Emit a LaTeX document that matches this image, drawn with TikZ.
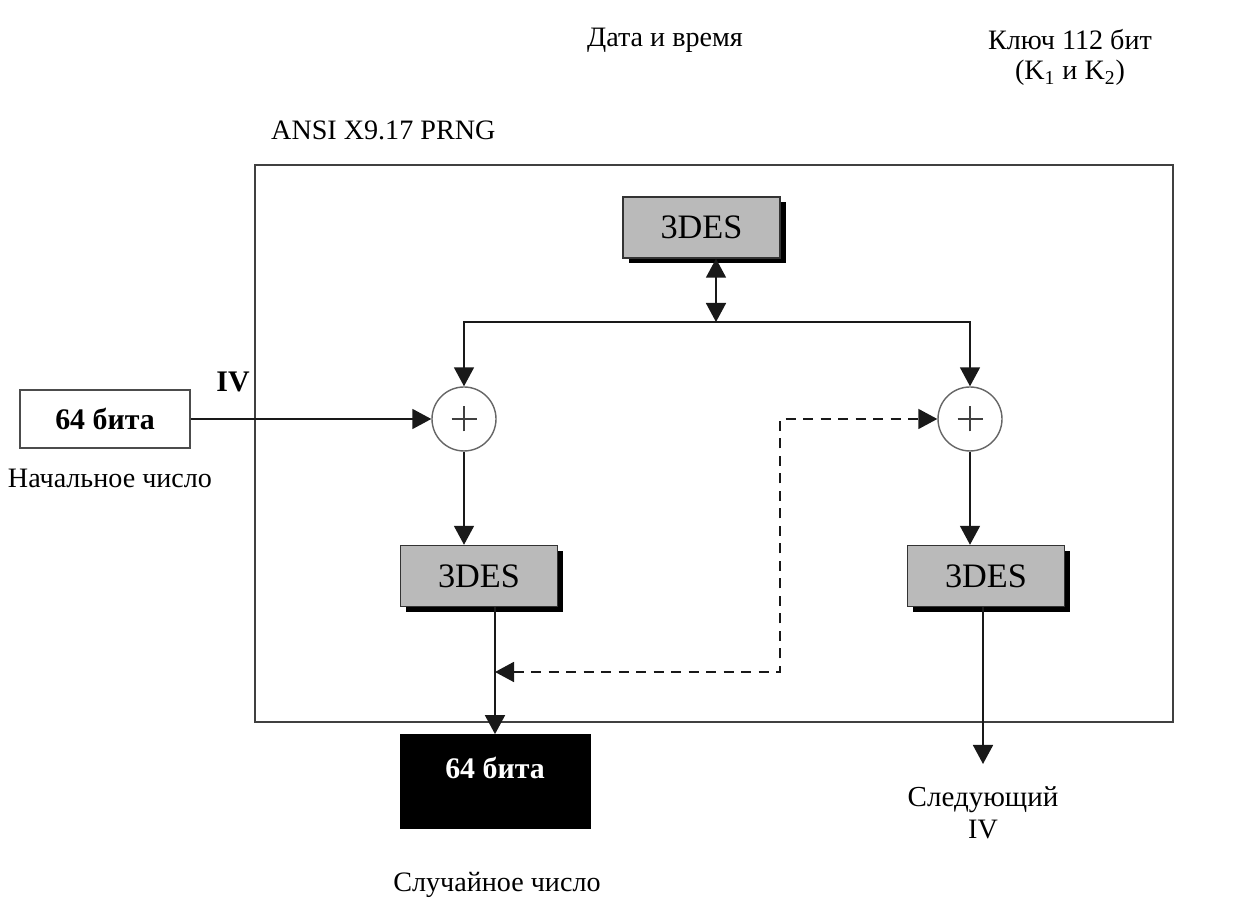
\documentclass[tikz,border=0pt]{standalone}
\usepackage{fontspec}
\setmainfont{Liberation Serif}
\usetikzlibrary{arrows.meta,shadows}

\begin{document}
\begin{tikzpicture}[>={Triangle[length=0.38cm,width=0.4cm]},
  link/.style={draw=black!90, line width=1pt},
  lbl/.style={font=\fontsize{16}{19}\selectfont},
  desbox/.style={draw=black!80, fill=black!27, line width=0.8pt,
    minimum width=3.14cm, minimum height=1.22cm,
    font=\fontsize{19.5}{22}\selectfont,
    drop shadow={opacity=1, fill=black, shadow xshift=0.11cm, shadow yshift=-0.11cm}},
  xorc/.style={circle, draw=black!60, fill=white, line width=0.8pt,
    minimum size=1.28cm, inner sep=0pt,
    path picture={\draw[black!75, line width=0.8pt] (path picture bounding box.center)
      +(-0.25,0) -- +(0.25,0) +(0,-0.25) -- +(0,0.25);}},
  seedbox/.style={draw=black!70, line width=0.8pt, minimum width=3.4cm,
    minimum height=1.16cm, font=\fontsize{17}{20}\selectfont\bfseries},
  outbox/.style={fill=black, minimum width=3.82cm, minimum height=1.9cm}]
\useasboundingbox (0,0) rectangle (24.94,18.14);

% frame
\draw[link, draw=black!75] (5.10,3.70) rectangle (23.46,14.84);
\node[lbl, anchor=west] (ansi) at (5.30,15.54) {ANSI X9.17 PRNG};
\node[lbl] (dt) at (13.30,17.34) {Дата и время};
\node[lbl] (key) at (21.40,17.34) {Ключ 112 бит};
\node[lbl] (keys) at (21.40,16.68) {(K\textsubscript{1} и K\textsubscript{2})};

% blocks
\node[desbox] (des0) at (14.03,13.59) {3DES};
\node[desbox] (desL) at (9.58,6.62) {3DES};
\node[desbox] (desR) at (19.72,6.62) {3DES};
\node[xorc] (xorL) at (9.28,9.76) {};
\node[xorc] (xorR) at (19.40,9.76) {};

% input
\node[seedbox] (seed) at (2.10,9.76) {64 бита};
\node[lbl] (seedlbl) at (2.20,8.58) {Начальное число};
\node[lbl, font=\fontsize{17}{20}\selectfont\bfseries] (ivlbl) at (4.66,10.50) {IV};

% output
\node[outbox] (out) at (9.90,2.50) {};
\node[text=white, font=\fontsize{17}{20}\selectfont\bfseries] (outtxt) at (9.90,2.78) {64 бита};
\node[lbl] (outlbl) at (9.94,0.44) {Случайное число};

\coordinate (bus) at (14.32,11.70);
\coordinate (tap) at (9.90,4.70);
\coordinate (fb) at (15.60,9.76);
\coordinate (next) at (19.66,2.86);

% connectors
\draw[link, <->] (des0.south -| bus) -- (bus);
\draw[link, ->] (bus) -| (xorL);
\draw[link, ->] (bus) -| (xorR);
\draw[link, ->] (seed) -- (xorL);
\draw[link, ->] (xorL) -- (xorL |- desL.north);
\draw[link, ->] (xorR) -- (xorR |- desR.north);
\draw[link, ->] (desL.south -| out) -- (out.north);
\draw[link, ->] (desR.south -| next) -- (next);
\draw[link, <->, dashed, dash pattern=on 0.2cm off 0.15cm] (tap) -| (fb) -- (xorR);

\node[lbl, font=\fontsize{16.5}{19}\selectfont] (nextlbl) at (19.66,2.14) {Следующий};
\node[lbl] (nextiv) at (19.66,1.54) {IV};
\end{tikzpicture}
\end{document}
